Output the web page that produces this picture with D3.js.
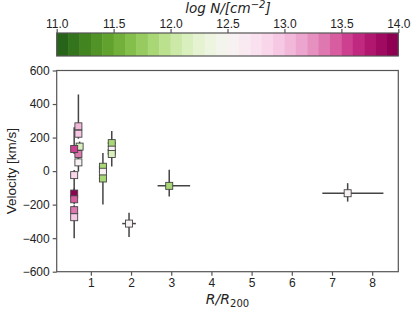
<!DOCTYPE html>
<html>
<head>
<meta charset="utf-8">
<script src="https://cdn.jsdelivr.net/npm/d3@7"></script>
<style>
  body { margin: 0; background: #fff; }
  text { font-family: "Liberation Sans", Arial, sans-serif; fill: #222; }
</style>
</head>
<body>
<svg id="chart" width="416" height="314"></svg>
<script>
// absorbers: radius, velocity, column density, with asymmetric errors
const radius   = [0.69, 0.69, 0.72, 0.69, 0.69, 0.585, 0.585, 0.585, 0.585, 0.585, 0.585, 1.30, 1.30, 1.30, 1.52, 1.52, 1.52, 1.95, 2.95, 7.39];
const velocity = [267, 223, 146, 102, 52, 132, -24, -134, -168, -233, -275, 26, -4, -44, 167, 128, 102, -313, -88, -132];
const logN     = [13.1, 12.9, 12.2, 13.3, 12.5, 13.5, 12.8, 13.95, 13.4, 13.3, 12.9, 11.8, 12.55, 11.8, 11.8, 12.5, 12.2, 12.6, 11.8, 12.5];
const velErrHi = [190, 40, 30, 30, 30, 130, 30, 30, 30, 30, 30, 82, 30, 30, 72, 20, 20, 65, 96, 60];
const velErrLo = [30, 30, 30, 30, 55, 30, 100, 30, 30, 30, 125, 30, 30, 155, 20, 20, 74, 80, 64, 50];
const radErrLo = [0.05, 0.05, 0.05, 0.05, 0.05, 0.05, 0.05, 0.05, 0.05, 0.05, 0.05, 0.1, 0.1, 0.1, 0.1, 0.1, 0.1, 0.17, 0.29, 0.63];
const radErrHi = [0.05, 0.05, 0.05, 0.05, 0.05, 0.05, 0.05, 0.05, 0.05, 0.05, 0.05, 0.1, 0.1, 0.1, 0.1, 0.1, 0.1, 0.17, 0.52, 0.89];

const xTicks = [1, 2, 3, 4, 5, 6, 7, 8];
const yTicks = [-600, -400, -200, 0, 200, 400, 600];
const cbTicks = [11.0, 11.5, 12.0, 12.5, 13.0, 13.5, 14.0];
const nBins = 30;

const svg = d3.select("#chart");
const plotL = 56.7, plotR = 398.3, plotT = 70.5, plotB = 271.7;
const axisColor = "#555";

const x = d3.scaleLinear().domain([0.15, 8.65]).range([plotL, plotR]);
const y = d3.scaleLinear().domain([-600, 600]).range([plotB, plotT]);

// discrete PiYG reversed, 30 levels between 11 and 14
const level = d3.scaleLinear().domain([11, 14]).range([0, nBins]);
function colorOf(v) {
  const i = Math.max(0, Math.min(nBins - 1, Math.floor(level(v))));
  return d3.interpolatePiYG(1 - i / (nBins - 1));
}

// colorbar
const cbTop = 33, cbBottom = 56;
const cb = svg.append("g");
const bins = d3.range(nBins);
const cbx = d3.scaleLinear().domain([11, 14]).range([plotL, plotR]);
cb.selectAll("rect").data(bins).enter().append("rect")
  .attr("x", i => cbx(11 + i * 0.1))
  .attr("width", i => cbx(11 + (i + 1) * 0.1) - cbx(11 + i * 0.1) + 0.4)
  .attr("y", cbTop).attr("height", cbBottom - cbTop)
  .attr("fill", i => d3.interpolatePiYG(1 - i / (nBins - 1)));
cb.append("rect").attr("x", plotL).attr("y", cbTop)
  .attr("width", plotR - plotL).attr("height", cbBottom - cbTop)
  .attr("fill", "none").attr("stroke", axisColor).attr("stroke-width", 1.2);
const cbAxis = cb.append("g").attr("transform", `translate(0,${cbTop})`)
  .call(d3.axisTop(cbx).tickValues(cbTicks).tickFormat(d3.format(".1f")).tickSize(4).tickPadding(1.5));
cbAxis.select(".domain").remove();
cbAxis.selectAll("line").attr("stroke", axisColor).attr("stroke-width", 1.2);
cbAxis.selectAll("text").attr("font-size", 12).attr("fill", "#222")
  .style("font-family", "Liberation Sans, Arial, sans-serif");

const cbTitle = svg.append("text").attr("x", 228).attr("y", 13)
  .attr("text-anchor", "middle").attr("font-size", 13.5)
  .style("font-family", "DejaVu Sans").style("font-style", "italic");
cbTitle.append("tspan").text("log N/[cm");
cbTitle.append("tspan").attr("dy", -5).attr("font-size", 10).text("\u22122");
cbTitle.append("tspan").attr("dy", 5).text("]");

// axes
const xAxis = svg.append("g").attr("transform", `translate(0,${plotB})`)
  .call(d3.axisBottom(x).tickValues(xTicks).tickFormat(d3.format("d")).tickSize(4).tickPadding(3));
const yAxis = svg.append("g").attr("transform", `translate(${plotL},0)`)
  .call(d3.axisLeft(y).tickValues(yTicks).tickFormat(d3.format("d")).tickSize(4).tickPadding(3));
[xAxis, yAxis].forEach(a => {
  a.select(".domain").remove();
  a.selectAll("line").attr("stroke", axisColor).attr("stroke-width", 1.2);
  a.selectAll("text").attr("font-size", 12).attr("fill", "#222")
    .style("font-family", "Liberation Sans, Arial, sans-serif");
});
svg.append("rect").attr("x", plotL).attr("y", plotT)
  .attr("width", plotR - plotL).attr("height", plotB - plotT)
  .attr("fill", "none").attr("stroke", axisColor).attr("stroke-width", 1.2);

svg.append("text").attr("transform", `translate(16,${(plotT + plotB) / 2}) rotate(-90)`)
  .attr("text-anchor", "middle").attr("font-size", 13.5).text("Velocity [km/s]");
const xl = svg.append("text").attr("x", (plotL + plotR) / 2).attr("y", 304)
  .attr("text-anchor", "middle").attr("font-size", 14)
  .style("font-family", "DejaVu Sans").style("font-style", "italic");
xl.append("tspan").text("R/R");
xl.append("tspan").attr("dy", 3).attr("font-size", 10).style("font-style", "normal").text("200");

// error bars
const idx = d3.range(radius.length);
const eb = svg.append("g").attr("stroke", "#444").attr("stroke-width", 1.5);
eb.selectAll("line.v").data(idx).enter().append("line")
  .attr("x1", i => x(radius[i])).attr("x2", i => x(radius[i]))
  .attr("y1", i => y(velocity[i] + velErrHi[i])).attr("y2", i => y(velocity[i] - velErrLo[i]));
eb.selectAll("line.h").data(idx).enter().append("line")
  .attr("y1", i => y(velocity[i])).attr("y2", i => y(velocity[i]))
  .attr("x1", i => x(radius[i] - radErrLo[i])).attr("x2", i => x(radius[i] + radErrHi[i]));

// markers
const ms = 7;
svg.append("g").selectAll("rect").data(idx).enter().append("rect")
  .attr("x", i => x(radius[i]) - ms / 2).attr("y", i => y(velocity[i]) - ms / 2)
  .attr("width", ms).attr("height", ms)
  .attr("fill", i => colorOf(logN[i]))
  .attr("stroke", "#444").attr("stroke-width", 0.9);
</script>
</body>
</html>
